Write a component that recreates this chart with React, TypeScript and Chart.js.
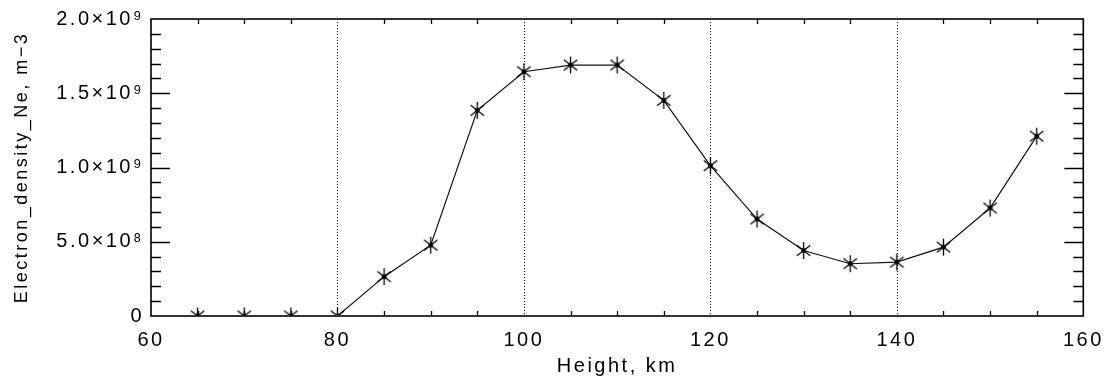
import React, { useEffect, useRef } from "react";
import { Chart, registerables } from "chart.js";

Chart.register(...registerables);

const heights = [65, 70, 75, 80, 85, 90, 95, 100, 105, 110, 115, 120, 125, 130, 135, 140, 145, 150, 155];
const density = [
  0, 0, 0, 0, 0.265e9, 0.477e9, 1.385e9, 1.645e9, 1.69e9, 1.69e9, 1.452e9, 1.012e9,
  0.653e9, 0.441e9, 0.352e9, 0.363e9, 0.464e9, 0.727e9, 1.211e9,
];
const yTickValues = [0, 5e8, 1e9, 1.5e9, 2e9];
const yTickLabels = ["0", "5.0×10⁸", "1.0×10⁹", "1.5×10⁹", "2.0×10⁹"];
const xGridValues = [80, 100, 120, 140];
const xTitle = "Height, km";
const yTitle = "Electron_density_Ne, m\u22123";

const FONT = "'Liberation Sans', Arial, sans-serif";

function makeAsterisk(): HTMLCanvasElement {
  const c = document.createElement("canvas");
  c.width = 19;
  c.height = 19;
  const g = c.getContext("2d")!;
  g.strokeStyle = "#000";
  g.fillStyle = "#000";
  g.lineWidth = 1.3;
  const cx = 9.5, cy = 9.5, r = 8.5;
  g.beginPath();
  for (const a of [90, 38, -38]) {
    const rad = (a * Math.PI) / 180;
    g.moveTo(cx - r * Math.cos(rad), cy - r * Math.sin(rad));
    g.lineTo(cx + r * Math.cos(rad), cy + r * Math.sin(rad));
  }
  g.stroke();
  g.beginPath();
  g.arc(cx, cy, 2.4, 0, Math.PI * 2);
  g.fill();
  return c;
}

const axesPlugin = {
  id: "idlAxes",
  beforeDraw(chart: any) {
    chart.ctx.letterSpacing = "2.5px";
  },
  beforeDatasetsDraw(chart: any) {
    const { ctx, chartArea: a, scales } = chart;
    ctx.save();
    ctx.letterSpacing = "0px";
    ctx.strokeStyle = "#000";
    ctx.lineWidth = 1;
    ctx.setLineDash([1, 2]);
    for (const v of xGridValues) {
      const x = Math.round(scales.x.getPixelForValue(v)) + 0.5;
      ctx.beginPath();
      ctx.moveTo(x, a.top);
      ctx.lineTo(x, a.bottom);
      ctx.stroke();
    }
    ctx.restore();
  },
  afterDatasetsDraw(chart: any) {
    const { ctx, chartArea: a, scales } = chart;
    ctx.save();
    ctx.setLineDash([]);
    ctx.strokeStyle = "#000";
    ctx.lineWidth = 1.6;
    ctx.strokeRect(a.left, a.top, a.right - a.left, a.bottom - a.top);
    ctx.lineWidth = 1.3;
    ctx.beginPath();
    for (let i = 1; i < 20; i++) {
      const v = i * 1e8;
      const y = Math.round(scales.y.getPixelForValue(v)) + 0.5;
      const len = i % 5 === 0 ? 19 : 10;
      ctx.moveTo(a.left, y);
      ctx.lineTo(a.left + len, y);
      ctx.moveTo(a.right, y);
      ctx.lineTo(a.right - len, y);
    }
    for (let v = 65; v < 160; v += 5) {
      if (v % 20 === 0) continue;
      const x = Math.round(scales.x.getPixelForValue(v)) + 0.5;
      ctx.moveTo(x, a.bottom);
      ctx.lineTo(x, a.bottom - 5);
      ctx.moveTo(x, a.top);
      ctx.lineTo(x, a.top + 5);
    }
    ctx.stroke();
    ctx.restore();
  },
  afterDraw(chart: any) {
    chart.ctx.letterSpacing = "0px";
  },
};

export default function App() {
  const ref = useRef<HTMLCanvasElement | null>(null);
  useEffect(() => {
    document.body.style.margin = "0";
    const star = makeAsterisk();
    const chart = new Chart(ref.current!, {
      type: "line",
      data: {
        datasets: [
          {
            data: heights.map((h, i) => ({ x: h, y: density[i] })),
            borderColor: "#111",
            backgroundColor: "#000",
            borderWidth: 1.2,
            pointStyle: star as any,
            pointRadius: 8,
            tension: 0,
            clip: { left: 0, top: 0, right: 0, bottom: -1 } as any,
          },
        ],
      },
      options: {
        responsive: false,
        animation: false,
        layout: { padding: { top: 17, right: 25, left: 0, bottom: 0 } },
        plugins: { legend: { display: false }, tooltip: { enabled: false } },
        scales: {
          x: {
            type: "linear",
            min: 60,
            max: 160,
            grid: { display: false, drawTicks: false },
            border: { display: false },
            ticks: {
              stepSize: 20,
              color: "#000",
              font: { family: FONT, size: 20 },
              padding: 12,
              maxRotation: 0,
            },
            title: {
              display: true,
              text: xTitle,
              color: "#000",
              font: { family: FONT, size: 20 },
              padding: { top: 0, bottom: 0 },
            },
            afterFit(scale: any) {
              scale.height = 62;
            },
          },
          y: {
            type: "linear",
            min: 0,
            max: 2e9,
            grid: { display: false, drawTicks: false },
            border: { display: false },
            ticks: {
              stepSize: 5e8,
              color: "#000",
              font: { family: FONT, size: 20 },
              padding: 7,
              callback: (v: any) => {
                const i = yTickValues.indexOf(Number(v));
                return i >= 0 ? yTickLabels[i] : "";
              },
            },
            title: {
              display: true,
              text: yTitle,
              color: "#000",
              font: { family: FONT, size: 18 },
              padding: { top: 11, bottom: 0 },
            },
            afterFit(scale: any) {
              scale.width = 151;
            },
          },
        },
      },
      plugins: [axesPlugin],
    });
    return () => chart.destroy();
  }, []);
  return (
    <div style={{ position: "absolute", left: 0, top: 0, width: 1112, height: 378, background: "#fff" }}>
      <canvas ref={ref} width={1112} height={378} />
    </div>
  );
}
